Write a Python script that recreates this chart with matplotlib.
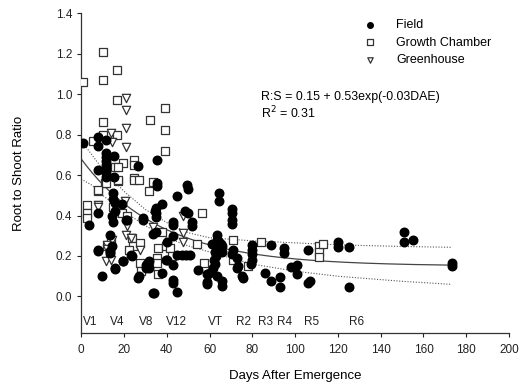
import matplotlib
matplotlib.use("Agg")
import matplotlib.pyplot as plt
import numpy as np

plt.rcParams['font.family'] = ['Liberation Sans', 'DejaVu Sans']

# ---------------- data ----------------
field_day = [0.8, 7.8, 7.8, 11.7, 7.8, 11.7, 11.7, 11.7, 11.7, 11.7, 11.7, 11.7, 15.5, 15.5, 26.8, 35.4,
             35.4, 35.4, 15.1, 15.1, 15.9, 15.9, 19.0, 21.3, 15.1, 7.8, 3.6, 7.8, 9.8, 13.6, 14.3, 13.6,
             15.9, 19.8, 23.7, 28.8, 27.0, 33.5, 34.6, 35.0, 37.7, 31.5, 31.5, 31.0, 33.8, 37.7, 40.0, 43.1,
             43.1, 43.1, 42.8, 42.8, 43.1, 44.7, 45.0, 40.0, 49.7, 50.0, 48.6, 50.0, 51.7, 51.7, 45.0, 47.0,
             49.0, 51.0, 54.8, 58.7,
             64.3, 64.3, 63.4, 63.5, 64.5, 65.5, 66.0, 64.0, 62.5, 63.0, 62.0, 62.6, 61.5, 60.5, 59.5, 58.7,
             58.7, 65.7, 65.7, 63.4, 66.0, 61.0,
             70.4, 70.4, 70.4, 70.4, 71.2, 70.5, 72.7, 75.0, 75.5, 72.7, 73.5, 79.7, 79.7, 79.7, 79.7, 79.2,
             88.8, 86.0, 88.8, 93.0, 93.0, 94.9, 94.9, 98.0, 101.0, 101.0, 106.2, 106.2, 106.8, 120.0, 120.0,
             125.2, 125.2, 151.0, 151.0, 155.0, 173.2, 173.2,
             7.9, 13.5, 19.6, 15.7, 23.5, 26.6, 30.5, 30.5, 34.1, 35.2, 35.2, 39.8, 29.0, 35.2, 14.2, 21.2]
field_val = [0.76, 0.79, 0.745, 0.775, 0.625, 0.71, 0.69, 0.67, 0.65, 0.63, 0.61, 0.59, 0.695, 0.59, 0.645, 0.675,
             0.56, 0.545, 0.51, 0.48, 0.46, 0.42, 0.455, 0.38, 0.37, 0.41, 0.355, 0.23, 0.10, 0.305, 0.25, 0.215,
             0.14, 0.175, 0.20, 0.38, 0.10, 0.31, 0.42, 0.435, 0.455, 0.175, 0.14, 0.16, 0.015, 0.115, 0.18, 0.30,
             0.355, 0.37, 0.08, 0.065, 0.155, 0.495, 0.02, 0.27, 0.55, 0.53, 0.42, 0.41, 0.37, 0.35, 0.205, 0.205,
             0.205, 0.205, 0.13, 0.11,
             0.51, 0.47, 0.305, 0.28, 0.27, 0.26, 0.25, 0.24, 0.22, 0.20, 0.18, 0.16, 0.14, 0.12, 0.11, 0.07,
             0.06, 0.075, 0.05, 0.10, 0.22, 0.26,
             0.43, 0.41, 0.38, 0.36, 0.23, 0.21, 0.19, 0.10, 0.09, 0.14, 0.15, 0.255, 0.23, 0.21, 0.18, 0.16,
             0.255, 0.115, 0.075, 0.095, 0.048, 0.24, 0.215, 0.145, 0.155, 0.11, 0.23, 0.068, 0.078, 0.27, 0.245,
             0.245, 0.046, 0.32, 0.27, 0.28, 0.165, 0.15,
             0.225, 0.225, 0.175, 0.135, 0.205, 0.09, 0.14, 0.155, 0.018, 0.41, 0.395, 0.18, 0.39, 0.32, 0.40, 0.38]

chamber_day = [1.1, 10, 10, 17, 17, 10, 10, 5.7, 17, 32, 39, 39, 39, 19.8, 24.8, 24.8, 16, 2.7, 2.7, 2.7,
               8.1, 11.2, 17.4, 17.4, 31.5, 33.8, 15.1, 19, 21.3, 12, 14, 13.6, 23.7, 24.1, 22.6, 27.6, 27.6,
               28, 35.4, 35.4, 36.1, 36.1, 37.7, 39.7, 41.6, 42.4, 49.4, 54, 56.4, 57.2, 71.2, 71.2, 78.2,
               84.1, 111.2, 111.2, 111.2, 113.2, 24.8, 24.8, 27.2, 11.8, 17.4, 8.1]
chamber_val = [1.06, 1.21, 1.07, 1.12, 0.97, 0.86, 0.80, 0.77, 0.80, 0.87, 0.93, 0.82, 0.72, 0.66, 0.675, 0.585,
               0.64, 0.45, 0.41, 0.39, 0.52, 0.56, 0.64, 0.57, 0.52, 0.565, 0.44, 0.41, 0.40, 0.25, 0.27, 0.215,
               0.29, 0.25, 0.23, 0.265, 0.165, 0.125, 0.19, 0.165, 0.11, 0.24, 0.32, 0.25, 0.24, 0.20, 0.205,
               0.26, 0.41, 0.165, 0.28, 0.18, 0.15, 0.27, 0.25, 0.22, 0.195, 0.26, 0.65, 0.575, 0.575, 0.56,
               0.575, 0.525]

green_day = [21, 21, 21, 21, 13.9, 14.3, 7.8, 7.8, 12, 12, 11.7, 14.3, 14, 20.6, 21.3, 21.2, 23.5, 27.6,
             33.8, 47.7, 47.7, 47.7]
green_val = [0.98, 0.92, 0.83, 0.74, 0.81, 0.765, 0.45, 0.44, 0.255, 0.235, 0.175, 0.28, 0.18, 0.47, 0.35,
             0.305, 0.29, 0.23, 0.345, 0.40, 0.315, 0.27]

# fitted curve as drawn, and its confidence band
fit_a, fit_b, fit_k = 0.15, 0.53, 0.027
fit_xmax = 173
band_day = [0, 5, 10, 20, 30, 40, 50, 60, 80, 100, 120, 150, 173]
band_upper = [0.77, 0.70, 0.63, 0.52, 0.43, 0.365, 0.315, 0.29, 0.275, 0.265, 0.255, 0.247, 0.243]
band_lower = [0.58, 0.55, 0.50, 0.42, 0.35, 0.29, 0.25, 0.22, 0.16, 0.125, 0.10, 0.075, 0.06]

stage_labels = ['V1', 'V4', 'V8', 'V12', 'VT', 'R2', 'R3', 'R4', 'R5', 'R6']
stage_days = [4.2, 16.8, 30.4, 44.4, 62.6, 75.7, 86.0, 95.3, 107.9, 128.5]

x_ticks = [0, 20, 40, 60, 80, 100, 120, 140, 160, 180, 200]
y_ticks = [0.0, 0.2, 0.4, 0.6, 0.8, 1.0, 1.2, 1.4]

# ---------------- figure ----------------
fig = plt.figure(figsize=(5.2, 3.84), dpi=100)
ax = fig.add_axes([0.156, 0.133, 0.823, 0.833])

ax.scatter(chamber_day, chamber_val, marker='s', s=32, facecolors='white',
           edgecolors='#333333', linewidths=0.9, zorder=3, label='Growth Chamber')
ax.scatter(green_day, green_val, marker='v', s=36, facecolors='white',
           edgecolors='#333333', linewidths=0.9, zorder=3, label='Greenhouse')
ax.scatter(field_day, field_val, marker='o', s=38, color='black', zorder=4, label='Field')

xs = np.linspace(0, fit_xmax, 200)
ax.plot(xs, fit_a + fit_b * np.exp(-fit_k * xs), color='#444444', lw=0.9, zorder=2)
ax.plot(band_day, band_upper, color='#555555', lw=0.8, ls=(0, (1, 1.5)), zorder=2)
ax.plot(band_day, band_lower, color='#555555', lw=0.8, ls=(0, (1, 1.5)), zorder=2)

for lab, d in zip(stage_labels, stage_days):
    ax.text(d, -0.128, lab, ha='center', va='center', fontsize=8.5, color='#222222')

ax.text(84, 0.985, 'R:S = 0.15 + 0.53exp(-0.03DAE)', fontsize=8.9, ha='left', va='center')
ax.text(84, 0.905, 'R$^2$ = 0.31', fontsize=8.9, ha='left', va='center')

ax.set_xlim(0, 200)
ax.set_ylim(-0.18, 1.4)
ax.set_xticks(x_ticks)
ax.set_yticks(y_ticks)
ax.set_yticklabels([f'{v:.1f}' for v in y_ticks])
ax.tick_params(direction='out', length=3, width=0.8, labelsize=8.5, colors='#222222')
ax.tick_params(axis='x', pad=5)
ax.spines['top'].set_visible(False)
ax.spines['right'].set_visible(False)
for s in ('left', 'bottom'):
    ax.spines[s].set_linewidth(0.9)
    ax.spines[s].set_color('#333333')

fig.text(295 / 520, 1 - 376 / 384, 'Days After Emergence', fontsize=9.5, ha='center', va='center')
ax.set_ylabel('Root to Shoot Ratio', fontsize=9.5, labelpad=22)

h, l = ax.get_legend_handles_labels()
order = [2, 0, 1]
leg = ax.legend([h[i] for i in order], [l[i] for i in order], loc='upper left',
                bbox_to_anchor=(0.628, 1.005), frameon=False, fontsize=9,
                handletextpad=1.1, labelspacing=0.45, markerscale=0.65, borderaxespad=0.2)

fig.savefig('out.png', dpi=100)
